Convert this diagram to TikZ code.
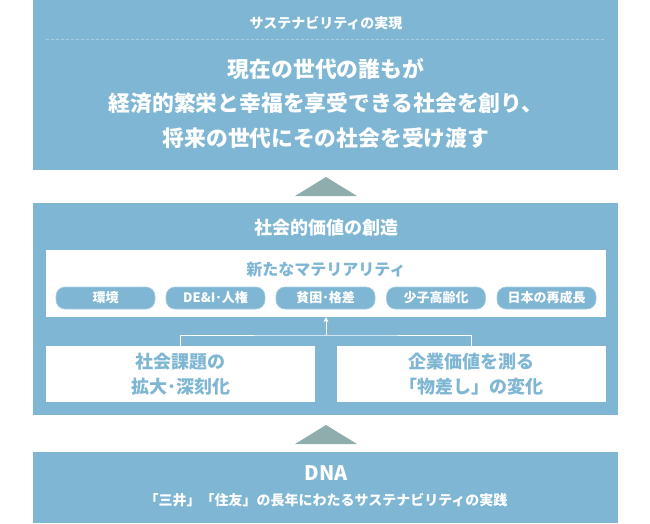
\documentclass[tikz,border=0pt]{standalone}
\usepackage{fontspec}
\setmainfont{Noto Sans CJK JP}
\usetikzlibrary{arrows.meta}
\definecolor{bx}{HTML}{7EB6D3}
\definecolor{tri}{HTML}{8FADAD}
\definecolor{dashc}{HTML}{A9CDE1}
\definecolor{pillb}{HTML}{A6CEE3}
\begin{document}
\begin{tikzpicture}[x=1pt,y=-1pt,
  bluebox/.style={fill=bx, draw=none, inner sep=0pt, minimum width=585pt},
  whitebox/.style={fill=white, draw=none, inner sep=0pt},
  pill/.style={fill=bx, draw=pillb, line width=0.6pt, rounded corners=9pt, inner sep=0pt,
    minimum width=99pt, minimum height=22pt, text=white, font=\bfseries\fontsize{13}{13}\selectfont},
  wtxt/.style={text=white, inner sep=0pt, align=center},
  btxt/.style={text=bx, inner sep=0pt, align=center},
  arrowtri/.style={fill=tri, draw=none},
  wline/.style={draw=white, line width=0.9pt}
]
\useasboundingbox (0,0) rectangle (650,523);
% top box
\node[bluebox, minimum height=170pt] (top) at (325.5,85) {};
\node[wtxt, font=\bfseries\fontsize{14}{14}\selectfont] (toptitle) at (326,23) {サステナビリティの実現};
\coordinate (dl) at (46,39);
\coordinate (dr) at (606,39);
\draw[dashc, line width=0.8pt, dash pattern=on 3pt off 2pt] (dl) -- (dr);
\node[wtxt, font=\bfseries\fontsize{21.8}{34.5}\selectfont] (topmain) at (326,103)
  {現在の世代の誰もが\\経済的繁栄と幸福を享受できる社会を創り、\\将来の世代にその社会を受け渡す};
% triangle 1
\fill[arrowtri] (295,196) -- (326,177) -- (357,196) -- cycle;
% middle box
\node[bluebox, minimum height=212pt] (mid) at (325.5,309) {};
\node[wtxt, font=\bfseries\fontsize{18}{18}\selectfont] (midtitle) at (326,228) {社会的価値の創造};
\node[whitebox, minimum width=560pt, minimum height=67pt] (mat) at (326,283.5) {};
\node[btxt, font=\bfseries\fontsize{16}{16}\selectfont] (mattitle) at (326,269) {新たなマテリアリティ};
\node[pill] (p1) at (105.5,298) {環境};
\node[pill] (p2) at (215.5,298) {DE\&I･人権};
\node[pill] (p3) at (325.5,298) {貧困･格差};
\node[pill] (p4) at (436,298) {少子高齢化};
\node[pill] (p5) at (546.5,298) {日本の再成長};
\node[whitebox, minimum width=269pt, minimum height=56pt] (lb) at (180.5,374) {};
\node[whitebox, minimum width=269pt, minimum height=56pt] (rb) at (471.5,374) {};
\node[btxt, font=\bfseries\fontsize{18}{25}\selectfont] (lbt) at (lb.center) {社会課題の\\拡大･深刻化};
\node[btxt, font=\bfseries\fontsize{18}{25}\selectfont] (rbt) at (rb.center) {企業価値を測る\\「物差し」の変化};
\coordinate (j) at (326,335);
\draw[wline] (lb.north) |- (j) -| (rb.north);
\draw[wline, -{Stealth[length=5pt,width=5pt]}] (j) -- (mat.south);
% triangle 2
\fill[arrowtri] (295,444) -- (326,425) -- (357,444) -- cycle;
% DNA box
\node[bluebox, minimum height=71pt] (dna) at (325.5,487.5) {};
\node[wtxt, font=\bfseries\fontsize{20}{20}\selectfont] (dnat) at (326,473) {DNA};
\node[wtxt, font=\bfseries\fontsize{14}{14}\selectfont] (dnas) at (326,500) {「三井」「住友」の長年にわたるサステナビリティの実践};
\end{tikzpicture}
\end{document}
